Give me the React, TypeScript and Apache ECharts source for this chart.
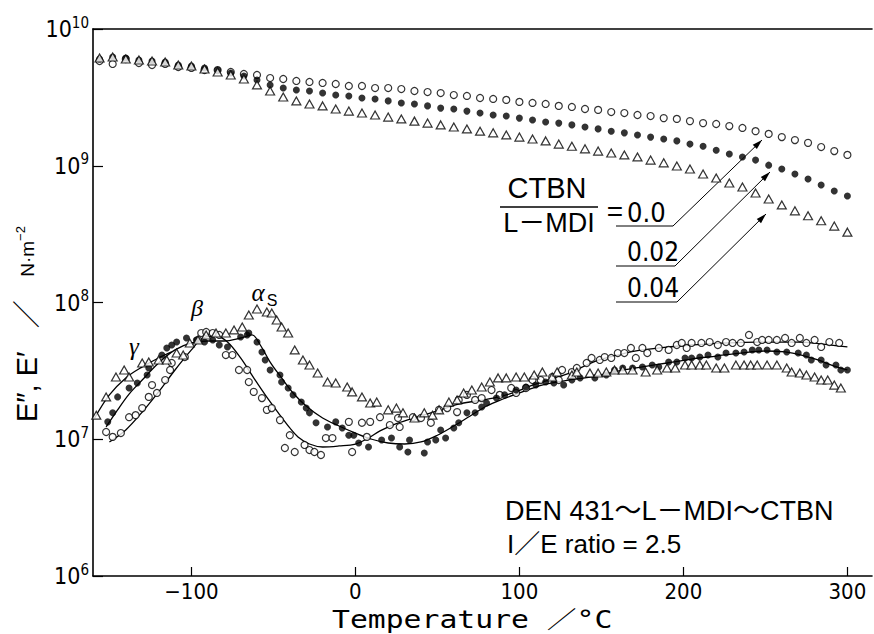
import React, { useEffect, useRef } from 'react';
import * as echarts from 'echarts';

// ---------- DATA ----------
const xTickValues = [-100, 0, 100, 200, 300];

// Upper curves (E'), common temperature grid
const temps = [-156,-148,-140,-132,-124,-116,-108,-100,-92,-84,-76,-68,-60,-52,-44,-36,-28,-20,-12,-4,4,12,20,28,36,44,52,60,68,76,84,92,100,108,116,124,132,140,148,156,164,172,180,188,196,204,212,220,228,236,244,252,260,268,276,284,292,300];
const eStorage00 = [5.83e9,5.55e9,6.03e9,5.64e9,5.45e9,5.55e9,5.27e9,5.19e9,5.01e9,5.01e9,4.85e9,4.69e9,4.61e9,4.38e9,4.31e9,4.17e9,4.10e9,4.03e9,3.96e9,3.83e9,3.83e9,3.70e9,3.70e9,3.64e9,3.52e9,3.46e9,3.40e9,3.29e9,3.24e9,3.13e9,3.08e9,3.03e9,2.93e9,2.88e9,2.83e9,2.74e9,2.69e9,2.60e9,2.56e9,2.47e9,2.43e9,2.35e9,2.31e9,2.23e9,2.20e9,2.12e9,2.05e9,2.02e9,1.95e9,1.89e9,1.79e9,1.71e9,1.62e9,1.54e9,1.47e9,1.37e9,1.28e9,1.20e9];
const eStorage002 = [6.03e9,6.24e9,6.14e9,5.93e9,5.83e9,5.74e9,5.45e9,5.36e9,5.19e9,5.01e9,4.77e9,4.53e9,4.24e9,3.90e9,3.70e9,3.58e9,3.52e9,3.40e9,3.29e9,3.24e9,3.13e9,3.08e9,2.98e9,2.88e9,2.83e9,2.74e9,2.64e9,2.60e9,2.51e9,2.43e9,2.35e9,2.31e9,2.23e9,2.16e9,2.09e9,2.05e9,1.99e9,1.92e9,1.86e9,1.79e9,1.74e9,1.68e9,1.62e9,1.57e9,1.52e9,1.44e9,1.39e9,1.30e9,1.22e9,1.16e9,1.10e9,1.01e9,9.46e8,8.70e8,8.00e8,7.23e8,6.54e8,6.01e8];
const eStorage004 = [6.14e9,6.24e9,6.03e9,5.93e9,5.83e9,5.74e9,5.45e9,5.36e9,5.10e9,4.85e9,4.61e9,4.31e9,3.90e9,3.52e9,3.18e9,2.98e9,2.83e9,2.74e9,2.60e9,2.51e9,2.43e9,2.35e9,2.27e9,2.20e9,2.12e9,2.05e9,1.99e9,1.92e9,1.86e9,1.79e9,1.74e9,1.68e9,1.62e9,1.57e9,1.52e9,1.44e9,1.39e9,1.33e9,1.28e9,1.24e9,1.20e9,1.16e9,1.10e9,1.05e9,9.95e8,9.46e8,8.70e8,8.14e8,7.48e8,6.99e8,6.32e8,5.71e8,5.17e8,4.68e8,4.31e8,3.96e8,3.62e8,3.27e8];

// Lower curves (E''), measured points
const lossT00 = [-152,-148,-143,-138,-134,-130,-126,-124,-121,-116,-113,-112,-104,-96,-94,-91,-87,-83,-79,-75,-71,-66,-65,-62,-57,-54,-51,-46,-43,-40,-37,-31,-28,-25,-21,-18,-14,-4,-2,4,7,9,15,21,26,27,35,40,46,51,56,62,63,68,73,77,83,88,95,98,104,108,113,120,124,126,132,135,141,144,149,152,156,160,164,168,171,175,178,185,191,196,199,202,205,211,216,221,226,230,235,240,245,248,252,257,262,266,271,275,280,284,289,295];
const lossV00 = [1.13e7,1.04e7,1.11e7,1.45e7,1.50e7,1.69e7,2.04e7,2.49e7,2.18e7,2.71e7,3.21e7,3.61e7,3.99e7,5.32e7,5.98e7,6.09e7,5.98e7,5.79e7,4.13e7,4.13e7,3.21e7,3.21e7,2.62e7,2.22e7,2.00e7,1.64e7,1.69e7,1.38e7,8.63e6,1.07e7,8.07e6,9.08e6,8.34e6,8.07e6,7.67e6,1.02e7,1.02e7,1.34e7,8.07e6,1.32e7,1.04e7,1.34e7,1.45e7,1.27e7,1.43e7,1.23e7,1.45e7,1.43e7,1.32e7,1.64e7,1.69e7,1.58e7,1.94e7,2.11e7,1.94e7,2.00e7,2.29e7,2.11e7,2.37e7,2.18e7,2.37e7,2.71e7,2.71e7,2.85e7,2.71e7,3.21e7,3.10e7,3.32e7,3.61e7,3.93e7,3.80e7,3.99e7,3.93e7,4.27e7,4.27e7,4.65e7,3.93e7,4.65e7,4.27e7,4.65e7,4.50e7,4.89e7,5.06e7,4.65e7,5.06e7,5.06e7,5.14e7,4.89e7,5.14e7,5.06e7,5.06e7,5.79e7,5.14e7,5.32e7,5.32e7,5.32e7,5.50e7,5.06e7,5.50e7,5.06e7,5.32e7,4.73e7,5.14e7,5.06e7];

const lossT002 = [-151,-148,-145,-138,-133,-127,-126,-118,-115,-112,-109,-103,-97,-92,-87,-83,-78,-70,-66,-65,-60,-57,-55,-52,-46,-45,-41,-38,-33,-30,-28,-24,-17,-12,-8,-4,-1,2,8,16,22,27,32,33,42,44,49,52,55,60,63,68,73,77,80,86,91,98,104,110,116,121,127,132,137,146,153,158,163,169,175,181,185,191,196,201,205,210,215,221,226,232,237,242,246,251,257,263,270,275,278,284,287,293,296,300];
const lossV002 = [1.34e7,1.56e7,2.04e7,2.37e7,2.58e7,2.95e7,3.32e7,4.13e7,4.65e7,4.89e7,5.14e7,5.50e7,5.32e7,5.14e7,5.32e7,4.89e7,4.73e7,5.59e7,5.79e7,5.98e7,5.14e7,4.35e7,3.80e7,3.21e7,2.95e7,2.62e7,2.37e7,2.11e7,1.87e7,1.69e7,1.56e7,1.32e7,1.23e7,1.34e7,1.21e7,1.07e7,1.07e7,9.39e6,8.78e6,9.87e6,1.02e7,8.78e6,8.07e6,9.87e6,7.93e6,9.55e6,9.87e6,1.17e7,1.02e7,1.21e7,1.32e7,1.56e7,1.56e7,1.72e7,1.84e7,2.00e7,2.11e7,2.29e7,2.41e7,2.49e7,2.62e7,2.58e7,2.49e7,2.71e7,2.81e7,2.81e7,2.95e7,3.21e7,3.32e7,3.32e7,3.38e7,3.49e7,3.38e7,3.67e7,3.67e7,3.93e7,3.93e7,3.99e7,4.13e7,3.99e7,4.27e7,4.27e7,4.35e7,4.50e7,4.50e7,4.50e7,4.35e7,4.35e7,4.27e7,4.13e7,3.80e7,3.80e7,3.49e7,3.49e7,3.21e7,3.21e7];

const lossT004 = [-158,-152,-146,-141,-138,-130,-126,-120,-115,-109,-105,-101,-96,-91,-85,-79,-74,-69,-65,-60,-54,-51,-48,-45,-41,-37,-32,-28,-23,-17,-12,-5,-2,4,9,13,20,25,29,36,42,47,51,57,62,66,71,77,82,87,92,98,103,109,114,120,123,132,135,143,148,153,158,163,169,177,184,190,195,201,205,210,214,220,225,232,237,241,245,251,257,263,266,271,275,280,284,288,292,296];
const lossV004 = [1.50e7,2.04e7,2.85e7,3.21e7,2.85e7,3.61e7,3.67e7,3.80e7,3.80e7,4.27e7,4.13e7,5.06e7,5.32e7,5.79e7,5.98e7,5.98e7,6.30e7,6.62e7,8.10e7,8.97e7,8.52e7,8.38e7,7.45e7,6.62e7,5.98e7,4.50e7,3.80e7,3.49e7,3.05e7,2.62e7,2.58e7,2.41e7,2.22e7,2.04e7,1.84e7,1.87e7,1.64e7,1.69e7,1.56e7,1.43e7,1.56e7,1.50e7,1.64e7,1.87e7,1.94e7,2.18e7,2.29e7,2.41e7,2.62e7,2.81e7,2.81e7,2.85e7,2.85e7,2.95e7,3.10e7,2.85e7,3.10e7,2.95e7,3.10e7,3.05e7,3.05e7,3.10e7,3.21e7,3.21e7,3.21e7,3.10e7,3.21e7,3.32e7,3.32e7,3.49e7,3.49e7,3.49e7,3.49e7,3.32e7,3.32e7,3.49e7,3.49e7,3.49e7,3.49e7,3.49e7,3.49e7,3.32e7,3.10e7,3.05e7,2.95e7,2.85e7,2.71e7,2.71e7,2.49e7,2.37e7];

// Fitted curves drawn through the E'' points
const fitT00 = [-150,-140,-130,-120,-110,-100,-93,-85,-78,-70,-62,-55,-47,-40,-35,-28,-20,-10,0,8,15,25,40,52,63,84,96,108,120,132,145,160,175,205,245,270,285,300];
const fitV00 = [9.55e6,1.17e7,1.58e7,2.22e7,3.21e7,4.50e7,5.50e7,5.69e7,5.14e7,3.93e7,2.81e7,2.11e7,1.56e7,1.21e7,1.04e7,9.23e6,8.78e6,8.93e6,9.23e6,1.02e7,1.15e7,1.30e7,1.48e7,1.64e7,1.81e7,2.00e7,2.18e7,2.49e7,2.76e7,3.10e7,3.67e7,4.13e7,4.50e7,4.89e7,5.14e7,5.14e7,4.97e7,4.73e7];
const fitT002 = [-152,-145,-138,-130,-120,-110,-100,-90,-80,-70,-63,-58,-52,-45,-38,-30,-20,-10,0,10,20,30,40,50,60,70,80,90,100,110,120,130,140,150,160,175,190,205,220,235,250,262,272,282,292,300];
const fitV002 = [1.23e7,1.64e7,2.14e7,2.71e7,3.61e7,4.50e7,5.06e7,5.23e7,5.23e7,5.50e7,5.79e7,4.89e7,3.67e7,2.81e7,2.18e7,1.75e7,1.43e7,1.25e7,1.11e7,1.00e7,9.39e6,9.23e6,9.55e6,1.07e7,1.25e7,1.48e7,1.75e7,1.97e7,2.18e7,2.41e7,2.58e7,2.71e7,2.81e7,2.95e7,3.15e7,3.38e7,3.61e7,3.86e7,4.06e7,4.27e7,4.42e7,4.35e7,4.13e7,3.80e7,3.43e7,3.21e7];
const fitT004 = [-159,-150,-140,-130,-120,-112];
const fitV004 = [1.43e7,2.11e7,2.81e7,3.38e7,3.93e7,4.35e7];

const yTickExps = ['6', '7', '8', '9', '10'];

// ---------- HELPERS ----------
const zip = (xs: number[], ys: number[]) => xs.map((x, i) => [x, ys[i]]);
const NARROW = '"Liberation Sans Narrow", "DejaVu Sans Condensed", "Arial Narrow", sans-serif';
const SANS = '"Liberation Sans", "Noto Sans CJK JP", sans-serif';
const SERIF = '"Liberation Serif", "DejaVu Serif", serif';
const MONO = '"DejaVu Sans Mono", "Noto Sans CJK JP", monospace';

function arrowHead(tx: number, ty: number, fx: number, fy: number, len = 10, half = 3) {
  const dx = tx - fx, dy = ty - fy;
  const d = Math.hypot(dx, dy);
  const ux = dx / d, uy = dy / d;
  const bx = tx - ux * len, by = ty - uy * len;
  return [[tx, ty], [bx - uy * half, by + ux * half], [bx + uy * half, by - ux * half]];
}

const openCircle = { symbol: 'circle', symbolSize: 7, itemStyle: { color: '#fff', borderColor: '#000', borderWidth: 1.2 } };
const filledCircle = { symbol: 'circle', symbolSize: 7, itemStyle: { color: '#000', borderColor: '#000', borderWidth: 0 } };
const openTriangle = { symbol: 'triangle', symbolSize: [9, 8], itemStyle: { color: '#fff', borderColor: '#000', borderWidth: 1.2 } };

function fitLine(name: string, xs: number[], ys: number[]) {
  return {
    name, type: 'line', data: zip(xs, ys), showSymbol: false, symbol: 'none', smooth: 0.35,
    lineStyle: { color: '#000', width: 1.3 }, z: 1, silent: true,
  };
}

function leader(pts: number[][]) {
  const n = pts.length;
  return [
    { type: 'polyline', shape: { points: pts }, style: { stroke: '#000', lineWidth: 1, fill: null } },
    { type: 'polygon', shape: { points: arrowHead(pts[n - 1][0], pts[n - 1][1], pts[n - 2][0], pts[n - 2][1]) }, style: { fill: '#000' } },
  ];
}

function txt(text: string, x: number, y: number, font: Record<string, any>, align = 'left', vAlign = 'middle', extra: Record<string, any> = {}) {
  return {
    type: 'text', x, y, silent: true, ...extra,
    style: { text, fill: '#000', align, textAlign: align, verticalAlign: vAlign, textVerticalAlign: vAlign, ...font },
  };
}

export default function App() {
  const ref = useRef<HTMLDivElement>(null);
  useEffect(() => {
    const chart = echarts.init(ref.current!, null, { renderer: 'svg' });
    const option: any = {
      animation: false,
      backgroundColor: '#fff',
      grid: { left: 93, top: 29, right: 2, bottom: 58, containLabel: false },
      xAxis: [
        {
          type: 'value', min: -160, max: 315, position: 'bottom',
          axisLine: { show: true, onZero: false, lineStyle: { color: '#000', width: 1.6 } },
          axisTick: { show: true, inside: true, length: 9, customValues: xTickValues, lineStyle: { color: '#000', width: 1.2 } },
          axisLabel: {
            customValues: xTickValues, color: '#000', fontSize: 22, fontFamily: NARROW, margin: 4,
            formatter: (v: number) => (v < 0 ? '\u2212' + Math.abs(v) : String(v)),
          },
          splitLine: { show: false },
        },
        {
          type: 'value', min: -160, max: 315, position: 'top',
          axisLine: { show: true, onZero: false, lineStyle: { color: '#000', width: 1.6 } },
          axisTick: { show: false }, axisLabel: { show: false }, splitLine: { show: false },
        },
      ],
      yAxis: {
        type: 'log', logBase: 10, min: 1e6, max: 1e10, position: 'left',
        axisLine: { show: true, onZero: false, lineStyle: { color: '#000', width: 1.6 } },
        axisTick: { show: true, inside: true, length: 10, lineStyle: { color: '#000', width: 1.2 } },
        axisLabel: {
          margin: 4,
          formatter: (v: number) => `{b|10}{s|${yTickExps[Math.round(Math.log10(v)) - 6]}}`,
          rich: {
            b: { fontSize: 23, fontFamily: NARROW, color: '#000' },
            s: { fontSize: 15, fontFamily: NARROW, color: '#000', padding: [0, 0, 13, 0] },
          },
        },
        splitLine: { show: false },
        minorTick: { show: false },
      },
      series: [
        { name: "E' 0.0", type: 'scatter', data: zip(temps, eStorage00), ...openCircle, z: 3 },
        { name: "E' 0.02", type: 'scatter', data: zip(temps, eStorage002), ...filledCircle, z: 3 },
        { name: "E' 0.04", type: 'scatter', data: zip(temps, eStorage004), ...openTriangle, z: 3 },
        fitLine('fit 0.0', fitT00, fitV00),
        fitLine('fit 0.02', fitT002, fitV002),
        fitLine('fit 0.04', fitT004, fitV004),
        { name: "E'' 0.0", type: 'scatter', data: zip(lossT00, lossV00), ...openCircle, z: 3 },
        { name: "E'' 0.02", type: 'scatter', data: zip(lossT002, lossV002), ...filledCircle, z: 3 },
        { name: "E'' 0.04", type: 'scatter', data: zip(lossT004, lossV004), ...openTriangle, z: 3 },
      ],
      graphic: [
        // y axis title (rotated)
        {
          type: 'text', x: 27, y: 422, rotation: Math.PI / 2, silent: true,
          style: {
            text: '{a|E\u2033, E\u2032}{sl|   \uFF0F   }{c|N\u00B7m}{d|\u22122}',
            align: 'left', textAlign: 'left', verticalAlign: 'middle', textVerticalAlign: 'middle',
            rich: {
              a: { fontSize: 29, fontFamily: SANS, color: '#000' },
              sl: { fontSize: 28, fontFamily: SANS, color: '#000' },
              c: { fontSize: 19, fontFamily: SANS, color: '#000' },
              d: { fontSize: 13, fontFamily: SANS, color: '#000', padding: [0, 0, 14, 0] },
            },
          },
        },
        // x axis title (stretched horizontally like the original typesetting)
        txt('Temperature \uFF0F\u00B0C', 332, 620, { fontSize: 24, fontFamily: MONO }, 'left', 'middle', { scaleX: 1.24, originX: 0, originY: 0 }),
        // relaxation labels
        txt('\u03B3', 134, 346, { fontSize: 25, fontFamily: SERIF, fontStyle: 'italic' }, 'center'),
        txt('\u03B2', 197, 308, { fontSize: 24, fontFamily: SERIF, fontStyle: 'italic' }, 'center'),
        txt('\u03B1', 258, 292, { fontSize: 25, fontFamily: SERIF, fontStyle: 'italic' }, 'center'),
        txt('S', 272, 300, { fontSize: 16, fontFamily: SANS }, 'center'),
        // ratio key
        txt('CTBN', 547, 188, { fontSize: 29, fontFamily: SANS }, 'center'),
        { type: 'line', shape: { x1: 500, y1: 207, x2: 598, y2: 207 }, style: { stroke: '#000', lineWidth: 1.6 } },
        txt('L\uFF0DMDI', 549, 223, { fontSize: 27, fontFamily: SANS }, 'center'),
        txt('=', 615, 211, { fontSize: 28, fontFamily: SANS }, 'center'),
        txt('0.0', 627, 212, { fontSize: 27, fontFamily: NARROW }),
        txt('0.02', 627, 252, { fontSize: 26, fontFamily: NARROW }),
        txt('0.04', 627, 288, { fontSize: 26, fontFamily: NARROW }),
        ...leader([[616, 226], [673, 226], [762, 140]]),
        ...leader([[616, 266], [675, 266], [770, 172]]),
        ...leader([[616, 302], [677, 302], [766, 214]]),
        // system description
        txt('DEN 431\uFF5EL\uFF0DMDI\uFF5ECTBN', 505, 511, { fontSize: 27, fontFamily: SANS }),
        txt('I\uFF0FE ratio = 2.5', 507, 544, { fontSize: 26, fontFamily: SANS }),
      ],
    };
    chart.setOption(option);
    return () => chart.dispose();
  }, []);
  return <div ref={ref} style={{ position: 'fixed', left: 0, top: 0, width: 874, height: 634 }} />;
}
